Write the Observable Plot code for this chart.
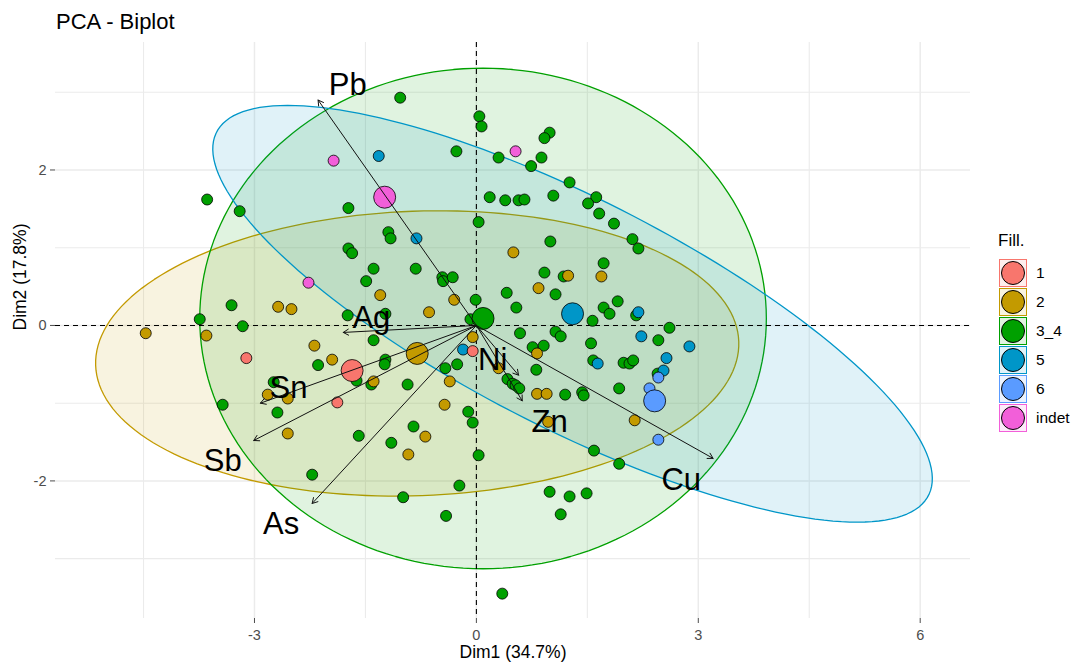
<!DOCTYPE html>
<html>
<head>
<meta charset="utf-8">
<script src="https://cdn.jsdelivr.net/npm/d3@7"></script>
<script src="https://cdn.jsdelivr.net/npm/@observablehq/plot@0.6"></script>
<style>
  body { margin: 0; background: #fff; font-family: "Liberation Sans", Arial, sans-serif; }
  #wrap { position: relative; width: 1072px; height: 666px; overflow: hidden; background: #fff; }
  #title { position: absolute; left: 56px; top: 11px; font-size: 22px; line-height: 1; color: #000; }
  #chart { position: absolute; left: 0; top: 35px; }
  .lg { position: absolute; }
</style>
</head>
<body>
<div id="wrap">
  <div id="title">PCA - Biplot</div>
  <div id="chart"></div>
  <div id="legend"></div>
</div>
<script>
// ---- categories & colours
const groups = ["1", "2", "3_4", "5", "6", "indet"];
const colors = ["#F8766D", "#C39A00", "#00A000", "#0096C8", "#5A9BFF", "#F25FD9"];

// ---- individuals (Dim1, Dim2) per group
const g1x = [-3.11, -1.88, -0.05];
const g1y = [-0.42, -0.99, -0.33];
const g2x = [-1.30, -0.30, -2.68, -2.50, -0.64, 0.50, 0.84, 1.24, 1.69, -0.05, -2.19, 0.82, -1.95, 0.30, -0.36, 0.82, 0.95, -4.47, -3.65, -1.39, -2.82, -2.55, -0.43, -0.69, -2.55, -0.92, 0.97, 2.14];
const g2y = [0.39, 0.33, 0.24, 0.21, 0.17, 0.94, 0.48, 0.64, 0.63, -0.15, -0.26, -0.36, -0.44, -0.55, -0.72, -0.88, -0.88, -0.10, -0.13, -0.72, -0.89, -0.94, -1.02, -1.43, -1.39, -1.66, -1.24, -1.22];
const g34x = [-1.03, 0.04, 0.07, -0.27, 0.30, -3.64, 0.18, -3.20, -1.73, 0.03,
  -1.19, -1.16, -1.73, -1.68, -1.39, -0.82, -1.49, -0.46, -0.45, -0.32,
  -0.01, -3.31, -3.74, -1.74, -1.23, -0.08, -3.16, 0.99, 0.92, 0.88,
  0.74, 1.26, 1.62, 1.51, 1.66, 1.86, 0.39, 0.57, 0.65, 1.04,
  2.11, 2.19, 1.00, 1.72, 0.92, 1.18, 0.41, 1.07, 0.54, 1.72,
  1.80, 1.91, 2.16, 1.57, 2.61, 0.59, 1.07, 1.14, 2.46, 1.55,
  0.76, 0.91, 1.58, 1.99, 2.07, 2.12, 0.81, 2.45, 0.42, 0.49,
  0.53, 0.58, 1.93, 1.20, 1.43, 1.45, 1.59, 1.93, 0.99, 1.26,
  1.49, 1.14, 0.35, -1.39, -2.14, -1.23, -1.24, -0.42, -0.26, -1.62,
  -1.42, -0.93, -2.74, -3.43, -2.69, -0.11, -0.05, -0.85, -1.59, -1.15,
  0.03, -2.22, -0.23, -0.99, -0.41];
const g34y = [2.93, 2.69, 2.56, 2.24, 2.16, 1.62, 1.65, 1.47, 1.51, 1.33,
  1.20, 1.12, 0.99, 0.93, 0.73, 0.73, 0.57, 0.62, 0.57, 0.62,
  0.33, 0.26, 0.08, 0.13, 0.15, 0.08, -0.01, 2.48, 2.41, 2.16,
  2.05, 1.84, 1.65, 1.57, 1.44, 1.31, 1.61, 1.61, 1.62, 1.67,
  1.11, 0.99, 1.08, 0.80, 0.68, 0.63, 0.42, 0.40, 0.23, 0.23,
  0.15, 0.31, 0.13, 0.06, -0.03, -0.10, -0.08, -0.14, -0.19, -0.23,
  -0.28, -0.26, -0.45, -0.48, -0.49, -0.45, -0.57, -0.62, -0.69, -0.75,
  -0.77, -0.81, -0.81, -0.89, -0.86, -0.90, -1.61, -1.78, -2.14, -2.20,
  -2.16, -2.43, -3.45, -0.19, -0.51, -0.44, -0.50, -0.55, -0.50, -0.71,
  -0.76, -0.76, -0.73, -1.02, -1.12, -1.11, -1.25, -1.30, -1.42, -1.51,
  -1.67, -1.92, -2.06, -2.21, -2.45];
const g5x = [-1.32, -0.81, -0.18, 2.19, 2.23, 2.88, 1.64, 2.57, 2.53];
const g5y = [2.18, 1.12, -0.31, 0.17, -0.14, -0.27, -0.49, -0.42, -0.58];
const g6x = [2.46, 2.34, 2.46];
const g6y = [-0.67, -0.81, -1.47];
const gIx = [-1.93, 0.53, -2.27];
const gIy = [2.12, 2.24, 0.55];

// ---- group centroids (big points), same order as groups
const centX = [-1.68, -0.80, 0.09, 1.30, 2.41, -1.24];
const centY = [-0.58, -0.36, 0.09, 0.15, -0.97, 1.65];

// ---- concentration ellipses (group, semi-axes, rotation in degrees)
const ellGroups = ["2", "3_4", "5"];
const ellA = [4.35, 3.83, 5.35];
const ellB = [1.83, 3.22, 1.49];
const ellAngle = [2, 0, -25.7];

// ---- variables (loadings arrows) and label positions
const varNames = ["Pb", "Ag", "Sn", "Sb", "As", "Ni", "Zn", "Cu"];
const varX = [-2.14, -1.80, -2.92, -3.01, -2.22, 0.57, 0.62, 3.20];
const varY = [2.90, -0.09, -1.00, -1.48, -2.29, -0.64, -0.97, -1.71];
const labX = [-1.74, -1.42, -2.54, -3.43, -2.64, 0.22, 0.99, 2.77];
const labY = [3.09, 0.10, -0.80, -1.74, -2.56, -0.45, -1.24, -1.99];

// ---- axes
const majorX = [-3, 0, 3, 6];
const minorX = [-4.5, -1.5, 1.5, 4.5];
const majorY = [-2, 0, 2];
const minorY = [-3, -1, 1, 3];
const xDomain = [-5.69, 6.68];
const yDomain = [-3.77, 3.64];
const xTitle = "Dim1 (34.7%)";
const yTitle = "Dim2 (17.8%)";
const legendTitle = "Fill.";

// ---- build tables
const groupXY = {"1": [g1x, g1y], "2": [g2x, g2y], "3_4": [g34x, g34y], "5": [g5x, g5y], "6": [g6x, g6y], "indet": [gIx, gIy]};
const drawOrder = ["3_4", "2", "5", "1", "6", "indet"];
const points = [];
for (const g of drawOrder) {
  const [xs, ys] = groupXY[g];
  xs.forEach((x, i) => points.push({g, x, y: ys[i]}));
}
const cents = groups.map((g, i) => ({g, x: centX[i], y: centY[i]}));
const vars = varNames.map((n, i) => ({n, x: varX[i], y: varY[i], lx: labX[i], ly: labY[i]}));

function ellipsePts(gi) {
  const g = ellGroups[gi];
  const ci = groups.indexOf(g);
  const cx = centX[ci], cy = centY[ci];
  const a = ellA[gi], b = ellB[gi], th = ellAngle[gi] * Math.PI / 180;
  const out = [];
  for (let k = 0; k <= 180; k++) {
    const t = k / 180 * 2 * Math.PI;
    out.push({x: cx + a * Math.cos(t) * Math.cos(th) - b * Math.sin(t) * Math.sin(th),
              y: cy + a * Math.cos(t) * Math.sin(th) + b * Math.sin(t) * Math.cos(th)});
  }
  return out;
}
const colorOf = g => colors[groups.indexOf(g)];
const ellipseMarks = ellGroups.map((g, i) =>
  Plot.line(ellipsePts(i), {x: "x", y: "y", stroke: colorOf(g), fill: colorOf(g), fillOpacity: 0.12, strokeWidth: 1.3}));

const chart = Plot.plot({
  width: 1072, height: 631,
  marginLeft: 55, marginRight: 102, marginTop: 7, marginBottom: 48,
  x: {domain: xDomain, label: null},
  y: {domain: yDomain, label: null},
  color: {domain: groups, range: colors},
  style: {fontFamily: "'Liberation Sans', Arial, sans-serif", background: "white", overflow: "visible"},
  marks: [
    Plot.ruleX(minorX, {stroke: "#EBEBEB", strokeWidth: 1.1}),
    Plot.ruleY(minorY, {stroke: "#EBEBEB", strokeWidth: 1.1}),
    Plot.ruleX(majorX, {stroke: "#EBEBEB", strokeWidth: 1.5}),
    Plot.ruleY(majorY, {stroke: "#EBEBEB", strokeWidth: 1.5}),
    ...ellipseMarks,
    Plot.ruleX([0], {stroke: "black", strokeWidth: 1.1, strokeDasharray: "5,4"}),
    Plot.ruleY([0], {stroke: "black", strokeWidth: 1.1, strokeDasharray: "5,4"}),
    Plot.dot(points, {x: "x", y: "y", fill: "g", r: 5.5, stroke: "black", strokeWidth: 0.8}),
    Plot.dot(cents, {x: "x", y: "y", fill: "g", r: 11, stroke: "black", strokeWidth: 0.8}),
    Plot.arrow(vars, {x1: 0, y1: 0, x2: "x", y2: "y", stroke: "#111", strokeWidth: 1, headLength: 9, headAngle: 60}),
    Plot.text(vars, {x: "lx", y: "ly", text: "n", fontSize: 31, fill: "black"}),
    Plot.axisX(majorX, {tickSize: 5, tickPadding: 6, fontSize: 14.5, color: "#4D4D4D", tickFormat: d => String(d), label: null}),
    Plot.axisY(majorY, {tickSize: 5, tickPadding: 4, fontSize: 14.5, color: "#4D4D4D", tickFormat: d => String(d), label: null}),
    Plot.text([xTitle], {frameAnchor: "bottom", dy: 39, fontSize: 17.5, fill: "black"}),
    Plot.text([yTitle], {frameAnchor: "left", dx: -35, rotate: -90, fontSize: 17.5, fill: "black"})
  ]
});
document.getElementById("chart").appendChild(chart);

// ---- legend
const lg = document.getElementById("legend");
function hexA(hex, a) {
  const c = d3.color(hex); c.opacity = a; return c.formatRgb();
}
const lt = document.createElement("div");
lt.className = "lg";
lt.style.cssText = "left:998px;top:231px;font-size:17px;line-height:20px;color:#000;";
lt.textContent = legendTitle;
lg.appendChild(lt);
groups.forEach((g, i) => {
  const cy = 273 + i * 29;
  const box = document.createElement("div");
  box.className = "lg";
  box.style.cssText = `left:999px;top:${cy - 14}px;width:26px;height:26px;border:1px solid ${colors[i]};background:${hexA(colors[i], 0.12)};`;
  const dot = document.createElement("div");
  dot.style.cssText = `position:absolute;left:1px;top:1px;width:22px;height:22px;border-radius:50%;border:1px solid #000;background:${colors[i]};`;
  box.appendChild(dot);
  lg.appendChild(box);
  const lab = document.createElement("div");
  lab.className = "lg";
  lab.style.cssText = `left:1036px;top:${cy - 10}px;font-size:15.5px;line-height:20px;color:#000;`;
  lab.textContent = g;
  lg.appendChild(lab);
});
</script>
</body>
</html>
